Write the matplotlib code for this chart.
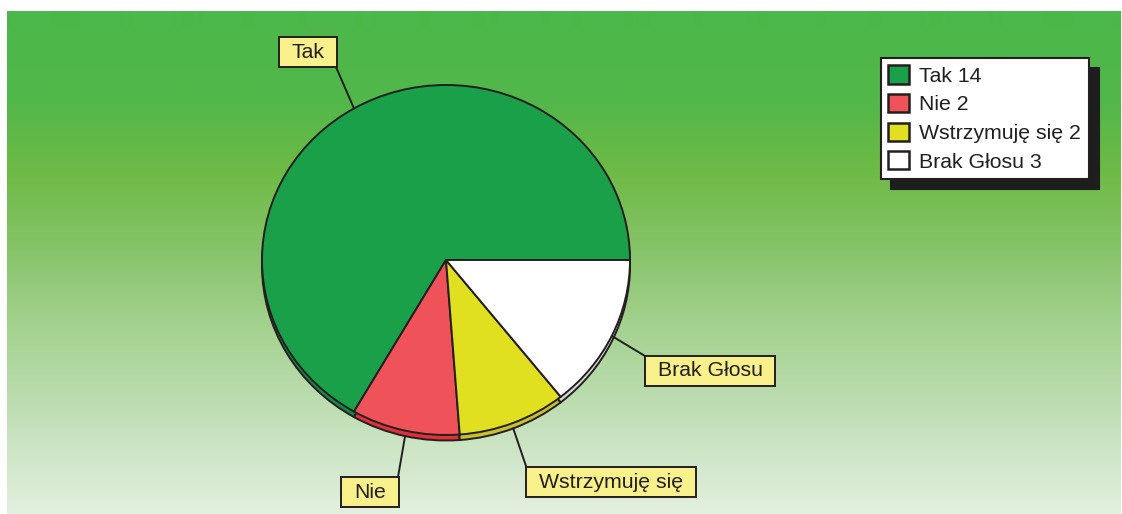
import matplotlib.pyplot as plt
import numpy as np
from matplotlib.path import Path

# vote results
labels = ["Tak", "Nie", "Wstrzymuję się", "Brak Głosu"]
votes = [14, 2, 2, 3]
colors = ["#1ba04a", "#f05259", "#e0e020", "#ffffff"]
side_colors = ["#17884a", "#e0303a", "#c8c030", "#d8d8d8"]
legend_labels = [f"{l} {v}" for l, v in zip(labels, votes)]

W, H = 1122, 514
EDGE = "#231f20"
FS = 15.3
plt.rcParams["font.family"] = ["Liberation Sans", "DejaVu Sans"]

fig = plt.figure(figsize=(W / 100, H / 100), dpi=100)
fig.patch.set_facecolor("white")

# green gradient background
bg = fig.add_axes([0, 0, 1, 1])
rows = np.arange(11, H)
stops_y = [11, 100, 170, 250, 330, 420, 514]
stops_rgb = np.array([(76, 184, 74), (82, 183, 74), (110, 186, 70), (135, 196, 105),
                      (165, 210, 145), (195, 224, 185), (228, 240, 224)]) / 255
grad = np.stack([np.interp(rows, stops_y, stops_rgb[:, c]) for c in range(3)], axis=-1)
bg.imshow(grad[:, None, :], extent=(7, 1121, H, 11), aspect="auto", interpolation="bilinear")
bg.set_xlim(0, W)
bg.set_ylim(H, 0)
bg.axis("off")

# pie axes: rx=184 px, ry=175 px, centre at (446, 260)
rx, ry, cx, cy = 184, 175, 446, 260
lim = 1.2
ax = fig.add_axes([(cx - lim * rx) / W, (H - cy - lim * ry) / H, 2 * lim * rx / W, 2 * lim * ry / H])
depth = 5.5 / ry

ax.pie(votes, colors=side_colors, startangle=0, center=(0, -depth),
       wedgeprops=dict(edgecolor=EDGE, linewidth=1.4))
wedges, _ = ax.pie(votes, colors=colors, startangle=0,
                   wedgeprops=dict(edgecolor=EDGE, linewidth=1.4))
ax.set_aspect("auto")
ax.set_xlim(-lim, lim)
ax.set_ylim(-lim, lim)
ax.axis("off")


def label_box(x0, y0, width, height, mutation_size):
    px, py = 0.6 * mutation_size, 0.27 * mutation_size
    x0, y0 = x0 - px, y0 - py
    x1, y1 = x0 + width + 2 * px, y0 + height + 2 * py
    return Path([(x0, y0), (x1, y0), (x1, y1), (x0, y1), (x0, y0)], closed=True)


# label box centres and leader attachment points (figure pixels from top)
box_pos = [(308, 52), (370, 492), (611, 482), (710, 371)]
leader_end = [(336, 67), (398, 477), (526, 466), (645, 356)]
for w, lab, (bx, by), (lx, ly) in zip(wedges, labels, box_pos, leader_end):
    mid = np.deg2rad((w.theta1 + w.theta2) / 2)
    px, py = np.cos(mid), np.sin(mid)
    if py < -0.5:
        py -= depth
    ax.annotate("", xy=(px, py), xycoords="data",
                xytext=(lx, H - ly), textcoords="figure pixels",
                arrowprops=dict(arrowstyle="-", color=EDGE, lw=1.4,
                                shrinkA=0, shrinkB=0), zorder=3)
    fig.text(bx / W, (H - by) / H, lab, ha="center", va="center",
             fontsize=FS, color="#231f20", zorder=4,
             bbox=dict(boxstyle=label_box, fc="#f8f08a", ec=EDGE, lw=1.4))

leg = fig.legend(wedges, legend_labels, loc="upper left",
                 bbox_to_anchor=(881 / W, (H - 58) / H), bbox_transform=fig.transFigure,
                 fontsize=FS, frameon=True, fancybox=False,
                 shadow={"ox": 7.2, "oy": -7.2, "facecolor": "#1e1e1e",
                         "edgecolor": "#1e1e1e", "alpha": 1},
                 borderpad=0.35, labelspacing=0.38, handlelength=0.95, handleheight=0.95,
                 handletextpad=0.5, borderaxespad=0)
leg.get_frame().set_edgecolor(EDGE)
leg.get_frame().set_linewidth(1.5)
for t in leg.get_texts():
    t.set_color("#231f20")
for p in leg.get_patches():
    p.set_linewidth(1.8)

fig.savefig("out.png", dpi=100)
